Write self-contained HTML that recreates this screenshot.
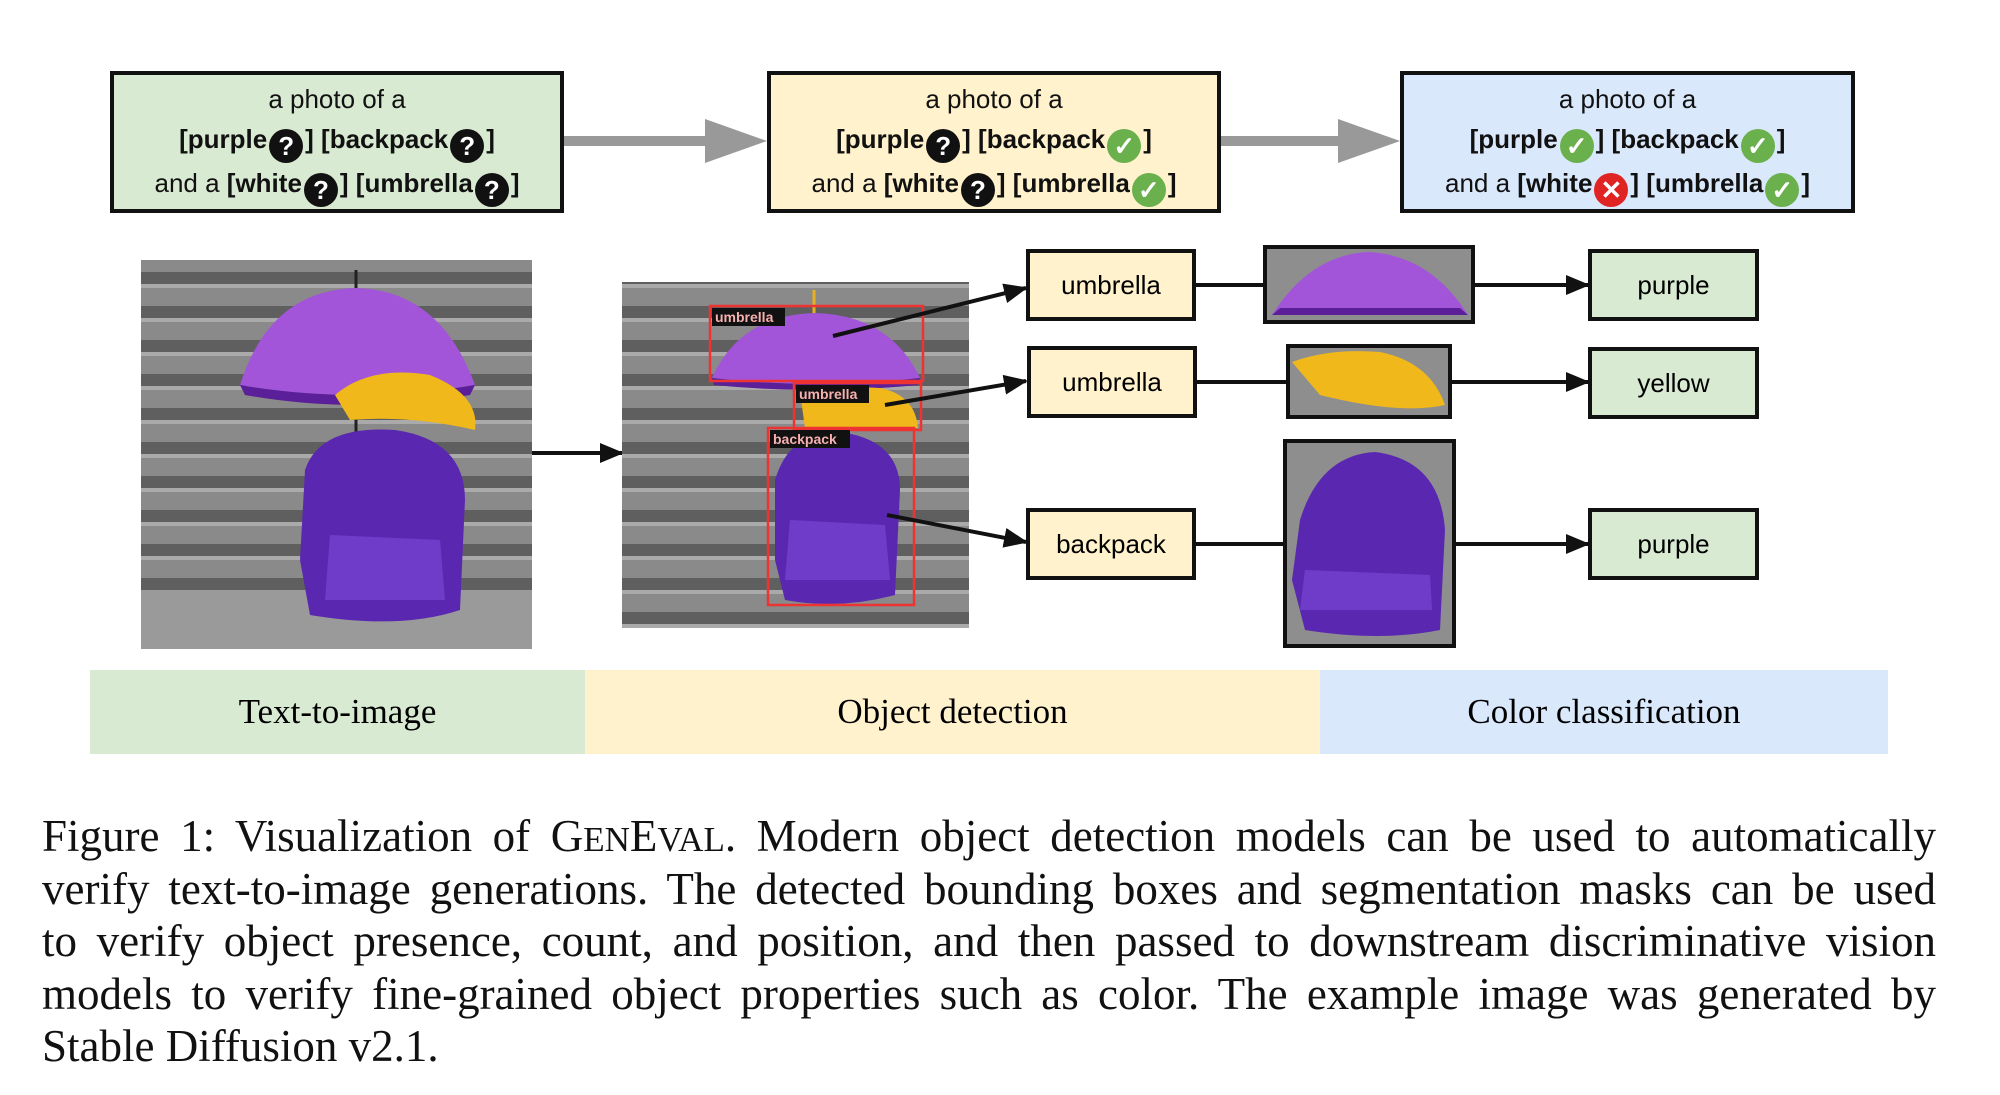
<!DOCTYPE html>
<html><head><meta charset="utf-8"><style>
html,body{margin:0;padding:0;background:#fff;}
body{width:2000px;height:1095px;position:relative;overflow:hidden;font-family:"Liberation Sans",sans-serif;}
.pb{position:absolute;border:4px solid #111;box-sizing:border-box;text-align:center;font-size:26px;line-height:40px;padding-top:4px;color:#111;}
.pb b{font-weight:bold;}
.ic{display:inline-block;width:34px;height:34px;border-radius:50%;color:#fff;font-weight:bold;font-size:26px;line-height:34px;text-align:center;vertical-align:-7px;margin:0 2px;}
.q{background:#111;}
.ok{background:#6ab04c;}
.x{background:#e02424;}
.lb{position:absolute;border:4px solid #111;box-sizing:border-box;text-align:center;font-size:26px;display:flex;align-items:center;justify-content:center;}
.band{position:absolute;top:670px;height:84px;font-family:"Liberation Serif",serif;font-size:35px;display:flex;align-items:center;justify-content:center;}
.cap{position:absolute;left:42px;top:810px;width:1894px;font-family:"Liberation Serif",serif;font-size:45px;color:#111;}
.cap div{height:52.5px;line-height:52.5px;white-space:nowrap;text-align:justify;text-align-last:justify;overflow:visible;}
.cap div.l{text-align-last:left;}
.sc{font-size:35px;}
</style></head><body>
<svg width="2000" height="1095" style="position:absolute;left:0;top:0">
<defs>
<marker id="ah" markerWidth="24" markerHeight="20" refX="22" refY="10" orient="auto" markerUnits="userSpaceOnUse" viewBox="0 0 24 20"><path d="M0,0 L24,10 L0,20z" fill="#111"/></marker>
<pattern id="st" width="40" height="34" patternUnits="userSpaceOnUse"><rect width="40" height="34" fill="#8a8a8a"/><rect y="0" width="40" height="12" fill="#5f5f5f"/><rect y="12" width="40" height="4" fill="#aaa"/></pattern>
</defs>
<rect x="564" y="136" width="145" height="10" fill="#999"/><path d="M705,119 L767,141 L705,163z" fill="#999"/>
<rect x="1220" y="136" width="120" height="10" fill="#999"/><path d="M1338,119 L1400,141 L1338,163z" fill="#999"/>
<rect x="141" y="260" width="391" height="389" fill="url(#st)"/>
<rect x="141" y="590" width="391" height="59" fill="#9a9a9a"/>
<line x1="356" y1="270" x2="356" y2="450" stroke="#222" stroke-width="3"/>
<path d="M240,385 Q270,290 356,288 Q440,290 475,385 Q356,405 240,385z" fill="#a255d9"/>
<path d="M240,385 Q356,405 475,385 L470,395 Q356,415 245,395z" fill="#5a1f99"/>
<path d="M335,395 Q370,365 430,375 Q480,395 475,430 Q410,415 350,420z" fill="#f0b81a"/>
<path d="M305,470 Q320,425 395,430 Q465,440 465,500 L460,610 Q400,630 310,615 L300,560z" fill="#5a28b0"/>
<path d="M330,535 L440,540 L445,600 L325,600z" fill="#6e3cc8"/>
<line x1="532" y1="453" x2="622" y2="453" stroke="#111" stroke-width="4" marker-end="url(#ah)"/>
<rect x="622" y="282" width="347" height="346" fill="url(#st)"/>
<line x1="814" y1="290" x2="814" y2="330" stroke="#e8b020" stroke-width="3"/>
<path d="M712,378 Q740,315 815,313 Q890,315 920,378 Q815,390 712,378z" fill="#a255d9"/>
<path d="M712,378 Q815,390 920,378 L918,385 Q815,395 714,385z" fill="#5a1f99"/>
<path d="M800,392 Q830,385 880,388 Q915,395 918,428 L805,428z" fill="#f0b81a"/>
<path d="M775,480 Q790,430 840,432 Q900,440 900,490 L895,595 Q840,610 785,600 L775,560z" fill="#5a28b0"/>
<path d="M790,520 L885,525 L890,580 L785,580z" fill="#6e3cc8"/>
<rect x="710" y="306" width="213" height="75" fill="none" stroke="#e33" stroke-width="2.5"/>
<rect x="794" y="383" width="127" height="47" fill="none" stroke="#e33" stroke-width="2.5"/>
<rect x="768" y="428" width="146" height="177" fill="none" stroke="#e33" stroke-width="2.5"/>
<rect x="712" y="308" width="73" height="18" fill="#111"/><text x="715" y="322" font-family="Liberation Sans" font-size="14" font-weight="bold" fill="#f7b0b0">umbrella</text>
<rect x="796" y="385" width="73" height="18" fill="#111"/><text x="799" y="399" font-family="Liberation Sans" font-size="14" font-weight="bold" fill="#f7b0b0">umbrella</text>
<rect x="770" y="430" width="80" height="18" fill="#111"/><text x="773" y="444" font-family="Liberation Sans" font-size="14" font-weight="bold" fill="#f7b0b0">backpack</text>
<line x1="833" y1="336" x2="1026" y2="288" stroke="#111" stroke-width="4" marker-end="url(#ah)"/>
<line x1="885" y1="405" x2="1026" y2="381" stroke="#111" stroke-width="4" marker-end="url(#ah)"/>
<line x1="887" y1="515" x2="1026" y2="542" stroke="#111" stroke-width="4" marker-end="url(#ah)"/>
<line x1="1196" y1="285" x2="1265" y2="285" stroke="#111" stroke-width="4"/>
<line x1="1473" y1="285" x2="1588" y2="285" stroke="#111" stroke-width="4" marker-end="url(#ah)"/>
<line x1="1197" y1="382" x2="1288" y2="382" stroke="#111" stroke-width="4"/>
<line x1="1450" y1="382" x2="1588" y2="382" stroke="#111" stroke-width="4" marker-end="url(#ah)"/>
<line x1="1196" y1="544" x2="1285" y2="544" stroke="#111" stroke-width="4"/>
<line x1="1454" y1="544" x2="1588" y2="544" stroke="#111" stroke-width="4" marker-end="url(#ah)"/>
<rect x="1265" y="247" width="208" height="75" fill="#8e8e8e" stroke="#111" stroke-width="4"/>
<path d="M1272,315 Q1310,255 1368,252 Q1430,255 1468,315z" fill="#a255d9"/>
<path d="M1272,315 L1468,315 L1460,308 L1280,308z" fill="#5a1f99"/>
<rect x="1288" y="346" width="162" height="71" fill="#8e8e8e" stroke="#111" stroke-width="4"/>
<path d="M1292,362 Q1330,348 1380,352 Q1430,362 1445,405 Q1400,415 1320,395z" fill="#f0b81a"/>
<rect x="1285" y="441" width="169" height="205" fill="#8e8e8e" stroke="#111" stroke-width="4"/>
<path d="M1300,520 Q1320,455 1375,452 Q1440,460 1445,530 L1440,630 Q1380,642 1305,630 L1292,580z" fill="#5a28b0"/>
<path d="M1305,570 L1430,575 L1432,610 L1300,610z" fill="#6e3cc8"/>
</svg>

<div class="pb" style="left:110px;top:71px;width:454px;height:142px;background:#d9ead3">a photo of a<br><b>[purple<span class="ic q">?</span>] [backpack<span class="ic q">?</span>]</b><br>and a <b>[white<span class="ic q">?</span>] [umbrella<span class="ic q">?</span>]</b></div>
<div class="pb" style="left:767px;top:71px;width:454px;height:142px;background:#fff2cc">a photo of a<br><b>[purple<span class="ic q">?</span>] [backpack<span class="ic ok">✓</span>]</b><br>and a <b>[white<span class="ic q">?</span>] [umbrella<span class="ic ok">✓</span>]</b></div>
<div class="pb" style="left:1400px;top:71px;width:455px;height:142px;background:#dae8fc">a photo of a<br><b>[purple<span class="ic ok">✓</span>] [backpack<span class="ic ok">✓</span>]</b><br>and a <b>[white<span class="ic x">✕</span>] [umbrella<span class="ic ok">✓</span>]</b></div>

<div class="lb" style="left:1026px;top:249px;width:170px;height:72px;background:#fff2cc">umbrella</div>
<div class="lb" style="left:1027px;top:346px;width:170px;height:72px;background:#fff2cc">umbrella</div>
<div class="lb" style="left:1026px;top:508px;width:170px;height:72px;background:#fff2cc">backpack</div>
<div class="lb" style="left:1588px;top:249px;width:171px;height:72px;background:#d9ead3">purple</div>
<div class="lb" style="left:1588px;top:347px;width:171px;height:72px;background:#d9ead3">yellow</div>
<div class="lb" style="left:1588px;top:508px;width:171px;height:72px;background:#d9ead3">purple</div>

<div class="band" style="left:90px;width:495px;background:#d9ead3">Text-to-image</div>
<div class="band" style="left:585px;width:735px;background:#fff2cc">Object detection</div>
<div class="band" style="left:1320px;width:568px;background:#dae8fc">Color classification</div>

<div class="cap">
<div>Figure 1: Visualization of G<span class="sc">EN</span>E<span class="sc">VAL</span>. Modern object detection models can be used to automatically</div>
<div>verify text-to-image generations. The detected bounding boxes and segmentation masks can be used</div>
<div>to verify object presence, count, and position, and then passed to downstream discriminative vision</div>
<div>models to verify fine-grained object properties such as color. The example image was generated by</div>
<div class="l">Stable Diffusion v2.1.</div>
</div>
</body></html>
